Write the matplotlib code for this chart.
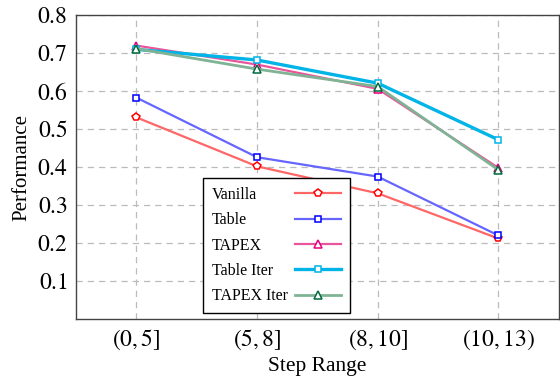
import matplotlib
matplotlib.use("Agg")
import matplotlib.pyplot as plt

plt.rcParams['font.family'] = ['Liberation Serif', 'DejaVu Serif']
plt.rcParams['mathtext.fontset'] = 'stix'

steps = [r"$(0,5]$", r"$(5,8]$", r"$(8,10]$", r"$(10,13)$"]
yticks = [0.1, 0.2, 0.3, 0.4, 0.5, 0.6, 0.7, 0.8]

vanilla = [0.531, 0.402, 0.331, 0.212]
table = [0.583, 0.426, 0.375, 0.220]
tapex = [0.720, 0.670, 0.606, 0.398]
table_iter = [0.710, 0.682, 0.621, 0.472]
tapex_iter = [0.712, 0.658, 0.612, 0.393]

x = list(range(len(steps)))

fig = plt.figure(figsize=(5.6, 3.76), dpi=100)
ax = fig.add_axes([0.1357, 0.1516, 0.862, 0.808])

# name, values, line colour, marker colour, marker, line width, marker size
series = [
    ("Vanilla", vanilla, "#ff6666", "red", "p", 1.6, 6.0),
    ("Table", table, "#6666ff", "blue", "s", 1.6, 5.0),
    ("TAPEX", tapex, "#e8559a", "#e6007e", "^", 1.6, 6.0),
    ("Table Iter", table_iter, "#00b4e8", "#00b4e8", "s", 2.4, 5.0),
    ("TAPEX Iter", tapex_iter, "#7fb394", "#006b3c", "^", 2.0, 6.0),
]
for name, vals, lc, mc, mk, lw, ms in series:
    ax.plot(x, vals, color=lc, lw=lw, marker=mk, markersize=ms,
            markerfacecolor="white", markeredgecolor=mc, markeredgewidth=1.1,
            label=name, zorder=3)

ax.set_xlim(-0.5, 3.5)
ax.set_ylim(0, 0.8)
ax.set_xticks(x)
ax.set_xticklabels(steps, fontsize=17)
ax.set_yticks(yticks)
ax.set_yticklabels([f"${v:.1f}$" for v in yticks], fontsize=17)
ax.tick_params(direction="in", length=0, pad=6)
ax.grid(True, color="#bbbbbb", linestyle=(0, (5, 4)), linewidth=0.9)
for s in ax.spines.values():
    s.set_color("#444444")
    s.set_linewidth(1.0)

ax.set_xlabel("Step Range", fontsize=15.5, labelpad=4)
ax.set_ylabel("Performance", fontsize=15, labelpad=4)

fs = 11.5
leg = ax.legend(loc="lower right", bbox_to_anchor=(0.567, 0.02), fontsize=fs,
                markerfirst=False, handlelength=2.9, labelspacing=0.58,
                fancybox=False, edgecolor="black", framealpha=1,
                borderpad=0.55, handletextpad=0.44, borderaxespad=0)
leg.get_frame().set_linewidth(1.0)

# left-align the labels: widen the gap between each label and its line
renderer = fig.canvas.get_renderer()
rows = [r for col in leg._legend_handle_box.get_children() for r in col.get_children()]
widths = [r.get_children()[0].get_bbox(renderer).width for r in rows]
wmax = max(widths)
for r, w in zip(rows, widths):
    r.sep = 0.44 * fs + (wmax - w) * 72.0 / fig.dpi

fig.savefig("out.png", dpi=100)
